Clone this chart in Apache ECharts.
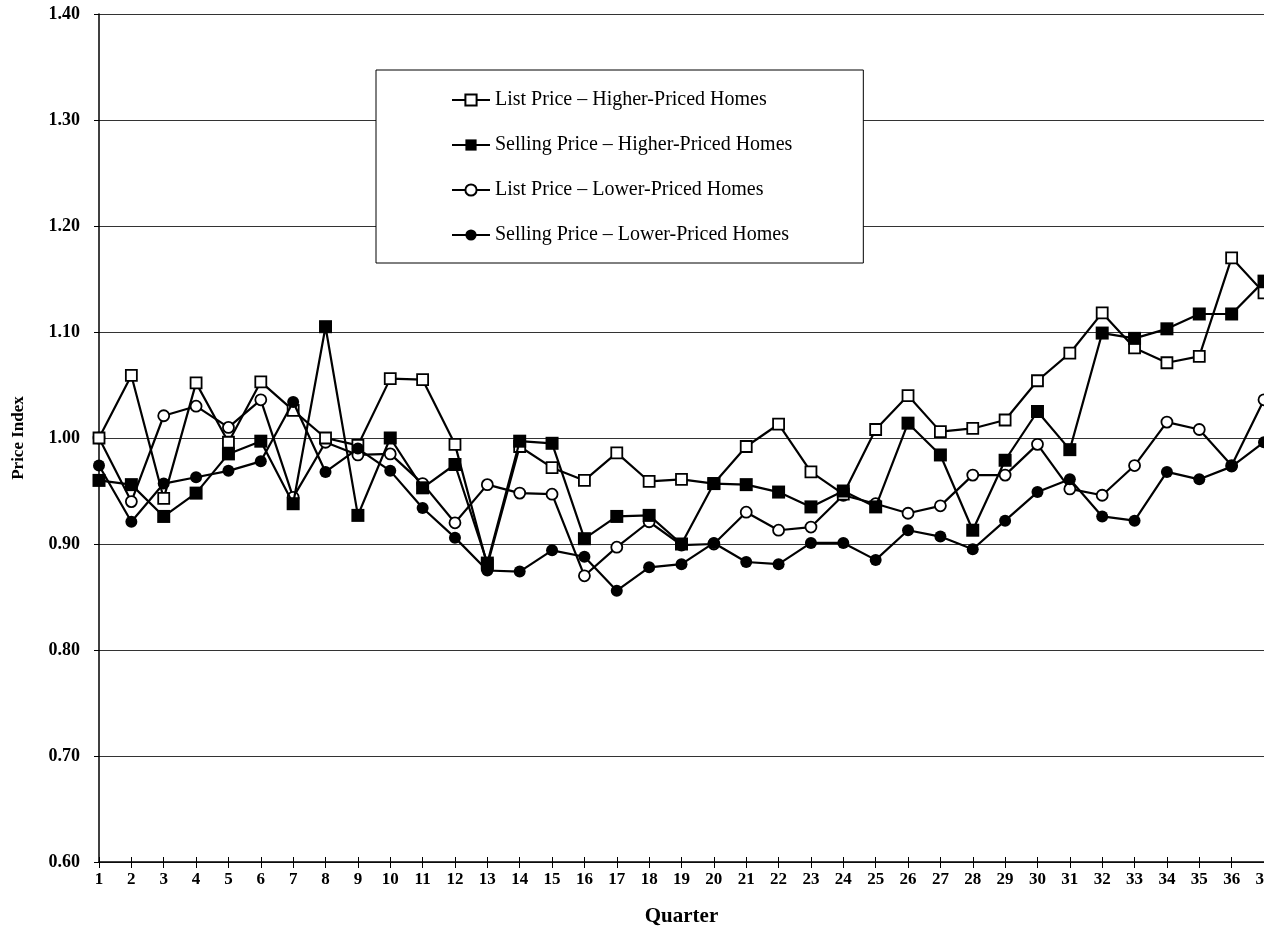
<!DOCTYPE html>
<html>
<head>
<meta charset="utf-8">
<script src="https://cdn.jsdelivr.net/npm/echarts@6/dist/echarts.min.js"></script>
<style>
html,body{margin:0;padding:0;background:#fff;overflow:hidden;}
#chart{width:1264px;height:943px;}
</style>
</head>
<body>
<div id="chart"></div>
<script>
var quarters = ['1','2','3','4','5','6','7','8','9','10','11','12','13','14','15','16','17','18','19','20','21','22','23','24','25','26','27','28','29','30','31','32','33','34','35','36','37'];

var listHigher = [1.000,1.059,0.943,1.052,0.996,1.053,1.026,1.000,0.993,1.056,1.055,0.994,0.880,0.992,0.972,0.960,0.986,0.959,0.961,0.957,0.992,1.013,0.968,0.947,1.008,1.040,1.006,1.009,1.017,1.054,1.080,1.118,1.085,1.071,1.077,1.170,1.137];
var sellHigher = [0.960,0.956,0.926,0.948,0.985,0.997,0.938,1.105,0.927,1.000,0.953,0.975,0.882,0.997,0.995,0.905,0.926,0.927,0.900,0.957,0.956,0.949,0.935,0.950,0.935,1.014,0.984,0.913,0.979,1.025,0.989,1.099,1.094,1.103,1.117,1.117,1.148];
var listLower = [1.000,0.940,1.021,1.030,1.010,1.036,0.944,0.996,0.984,0.985,0.957,0.920,0.956,0.948,0.947,0.870,0.897,0.921,0.899,0.900,0.930,0.913,0.916,0.946,0.938,0.929,0.936,0.965,0.965,0.994,0.952,0.946,0.974,1.015,1.008,0.974,1.036];
var sellLower = [0.974,0.921,0.957,0.963,0.969,0.978,1.034,0.968,0.990,0.969,0.934,0.906,0.875,0.874,0.894,0.888,0.856,0.878,0.881,0.901,0.883,0.881,0.901,0.901,0.885,0.913,0.907,0.895,0.922,0.949,0.961,0.926,0.922,0.968,0.961,0.973,0.996];

var seriesNames = [
  'List Price \u2013 Higher-Priced Homes',
  'Selling Price \u2013 Higher-Priced Homes',
  'List Price \u2013 Lower-Priced Homes',
  'Selling Price \u2013 Lower-Priced Homes'
];

var serif = '"Liberation Serif", "DejaVu Serif", serif';

function mk(name, data, symbol, filled, size, z) {
  return {
    name: name,
    type: 'line',
    data: data,
    z: z,
    symbol: symbol,
    symbolSize: size,
    showAllSymbol: true,
    lineStyle: {color: '#000', width: 2.2},
    itemStyle: {color: filled ? '#000' : '#fff', borderColor: '#000', borderWidth: filled ? 0 : 1.8},
    emphasis: {disabled: true}
  };
}

var chart = echarts.init(document.getElementById('chart'), null, {renderer: 'canvas'});
chart.setOption({
  animation: false,
  backgroundColor: '#fff',
  grid: {left: 99, right: 0, top: 14, bottom: 81, containLabel: false, outerBoundsMode: 'none'},
  legend: {
    orient: 'vertical',
    left: 376,
    top: 70,
    padding: [20, 71, 18, 75],
    itemGap: 25,
    itemWidth: 38,
    itemHeight: 14,
    backgroundColor: '#fff',
    borderColor: '#000',
    borderWidth: 1,
    textStyle: {fontFamily: serif, fontSize: 20, color: '#000', fontWeight: 'normal'},
    data: seriesNames
  },
  xAxis: [{
    type: 'category',
    data: quarters,
    boundaryGap: false,
    axisLine: {lineStyle: {color: '#000', width: 1.5}},
    axisTick: {show: true, length: 6, lineStyle: {color: '#000'}, alignWithLabel: true},
    axisLabel: {fontFamily: serif, fontSize: 17, fontWeight: 'bold', color: '#000', margin: 9, interval: 0},
    name: 'Quarter',
    nameLocation: 'middle',
    nameGap: 44,
    nameTextStyle: {fontFamily: serif, fontSize: 21, fontWeight: 'bold', color: '#000'},
    splitLine: {show: false}
  }, {
    type: 'category',
    data: quarters,
    boundaryGap: false,
    position: 'bottom',
    axisLine: {show: false},
    axisTick: {show: true, inside: true, length: 5, lineStyle: {color: '#000'}},
    axisLabel: {show: false},
    splitLine: {show: false}
  }],
  yAxis: {
    type: 'value',
    min: 0.6,
    max: 1.4,
    interval: 0.1,
    axisLine: {show: true, lineStyle: {color: '#000', width: 1.5}},
    axisTick: {show: true, length: 5, lineStyle: {color: '#000'}},
    axisLabel: {fontFamily: serif, fontSize: 18, fontWeight: 'bold', color: '#000', margin: 19,
      formatter: function (v) { return v.toFixed(2); }},
    splitLine: {show: true, lineStyle: {color: '#333', width: 1.2}},
    name: 'Price Index',
    nameLocation: 'middle',
    nameRotate: 90,
    nameGap: 72,
    nameTextStyle: {fontFamily: serif, fontSize: 17, fontWeight: 'bold', color: '#000'}
  },
  series: [
    mk(seriesNames[0], listHigher, 'rect', false, 11, 3),
    mk(seriesNames[1], sellHigher, 'rect', true, 13, 5),
    mk(seriesNames[2], listLower, 'circle', false, 11, 2),
    mk(seriesNames[3], sellLower, 'circle', true, 12, 4)
  ]
});
</script>
</body>
</html>
